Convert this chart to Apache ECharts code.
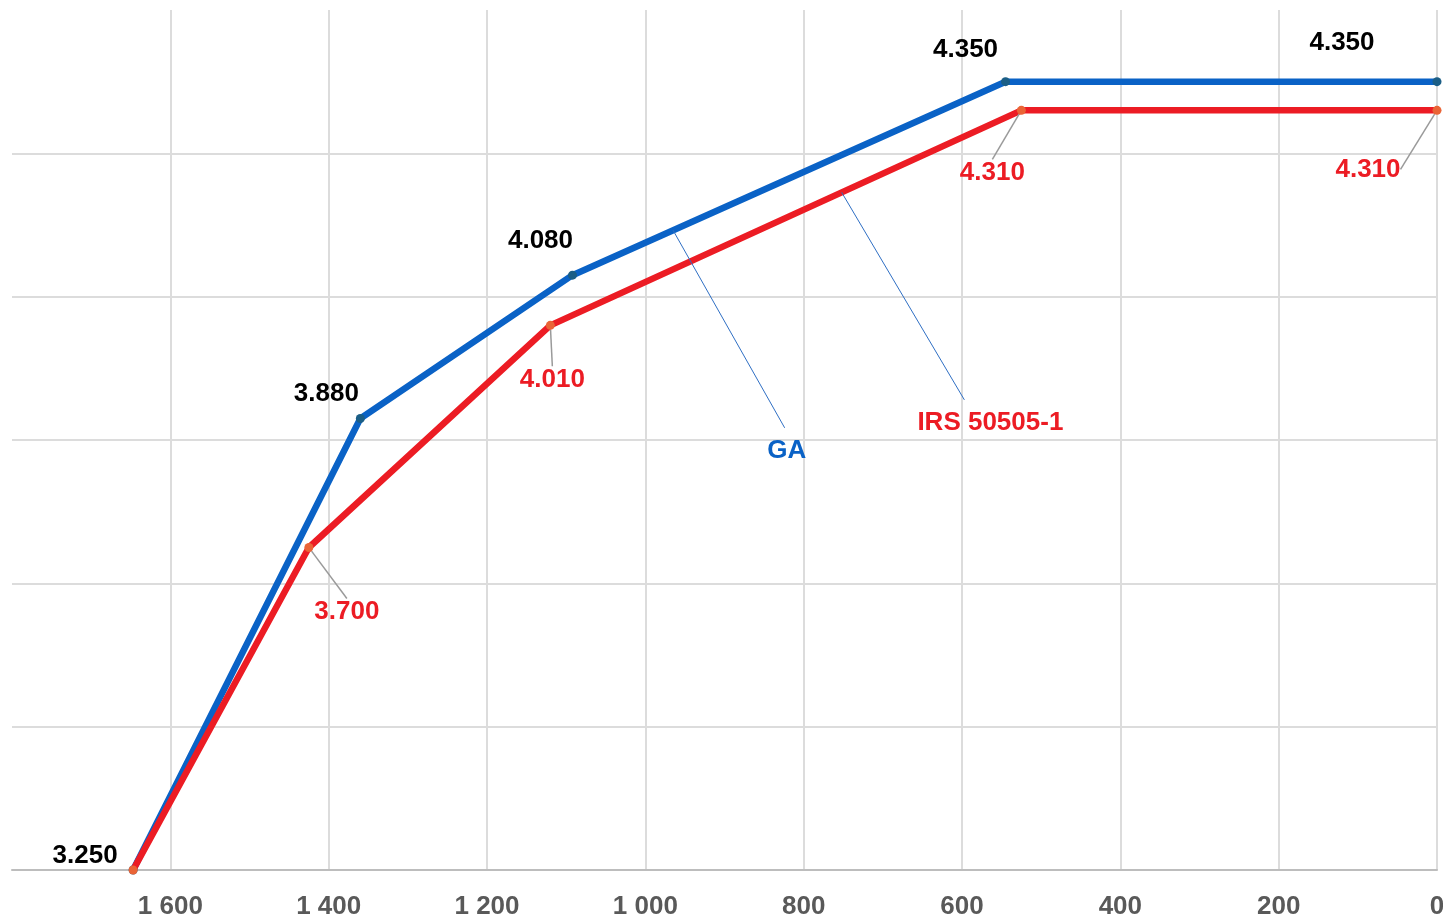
<!DOCTYPE html>
<html><head><meta charset="utf-8">
<script src="https://cdn.jsdelivr.net/npm/echarts@6/dist/echarts.min.js"></script>
<style>html,body{margin:0;padding:0;background:#fff;overflow:hidden}#c{width:1443px;height:918px}</style>
</head><body><div id="c"></div>
<script>
// ---- data ----
const gaName = 'GA';
const gaDist = [1647, 1360, 1092, 545, 0];
const gaLevel = [3.25, 3.88, 4.08, 4.35, 4.35];
const irsName = 'IRS 50505-1';
const irsDist = [1647, 1425, 1120, 525, 0];
const irsLevel = [3.25, 3.70, 4.01, 4.31, 4.31];
const xMin = 0, xMax = 1800, xStep = 200;
const yMin = 3.25, yMax = 4.45, yStep = 0.2;

// annotation anchors (data coordinates)
const gaNoteAnchorX = 965, gaNoteEnd = [824, 3.867];
const irsNoteAnchorX = 752, irsNoteEnd = [597, 3.906];

// ---- styles ----
const FONT = '"Liberation Sans", Arial, sans-serif';
const BLUE = '#0a62c6', RED = '#ec1c24';
const gaLabelOffsets = [[-48,-14],[-34,-25],[-32,-34],[-40,-32],[-95,-39]];
const irsLabelOffsets = [[0,0],[38,64],[2,54],[-29,62],[-69,59]];

function interp(xs, ys, x){
  for (let i = 0; i < xs.length - 1; i++) {
    const a = xs[i], b = xs[i+1];
    if ((x <= a && x >= b) || (x >= a && x <= b)) {
      return ys[i] + (ys[i+1] - ys[i]) * (x - a) / (b - a);
    }
  }
  return ys[ys.length-1];
}
function fmtThousands(v){
  if (v >= 1000) return Math.floor(v/1000) + ' ' + String(v % 1000).padStart(3,'0');
  return String(v);
}
function buildData(xs, ys, hideFirst){
  return xs.map((x,i) => {
    const d = {value:[x, ys[i]]};
    if (hideFirst && i === 0) d.label = {show:false};
    return d;
  });
}

const chart = echarts.init(document.getElementById('c'), null, {renderer:'canvas'});
const noteLabel = (color, off) => ({
  show:true, position:'bottom', distance:10, offset:off,
  color:color, fontSize:26, fontWeight:'bold', fontFamily:FONT
});

chart.setOption({
  animation:false,
  backgroundColor:'#fff',
  grid:{left:12, right:6, top:10, bottom:48, containLabel:false, outerBoundsMode:'none'},
  xAxis:{
    type:'value', inverse:true, min:xMin, max:xMax, interval:xStep,
    axisLine:{show:true, lineStyle:{color:'#bdbdbd', width:2}},
    axisTick:{show:false},
    axisLabel:{show:true, showMaxLabel:false, margin:24, color:'#595959',
      fontSize:26, fontWeight:'bold', fontFamily:FONT, formatter:fmtThousands},
    splitLine:{show:true, showMaxLine:false, lineStyle:{color:'#dcdcdc', width:2}}
  },
  yAxis:{
    type:'value', min:yMin, max:yMax, interval:yStep,
    axisLine:{show:false}, axisTick:{show:false}, axisLabel:{show:false},
    splitLine:{show:true, showMaxLine:false, lineStyle:{color:'#dcdcdc', width:2}}
  },
  series:[
    {
      name:gaName, type:'line', data:buildData(gaDist, gaLevel, false),
      symbol:'circle', symbolSize:9,
      lineStyle:{color:BLUE, width:6.5},
      itemStyle:{color:'#1b5e86'},
      label:{show:true, position:'inside', color:'#000', fontSize:26, fontWeight:'bold',
        fontFamily:FONT, formatter:p => p.value[1].toFixed(3)},
      labelLayout:p => ({dx:gaLabelOffsets[p.dataIndex][0], dy:gaLabelOffsets[p.dataIndex][1]}),
      labelLine:{show:false},
      z:2,
      markLine:{
        silent:true, symbol:['none','none'], animation:false,
        lineStyle:{color:'#2f6fc4', width:1, type:'solid'},
        label:{show:false}, emphasis:{disabled:true},
        data:[[{coord:[gaNoteAnchorX, interp(gaDist, gaLevel, gaNoteAnchorX)]},{coord:gaNoteEnd}]]
      },
      markPoint:{
        silent:true, symbol:'circle', symbolSize:0, animation:false,
        label:Object.assign(noteLabel(BLUE,[2,0]), {formatter:() => gaName}),
        data:[{coord:gaNoteEnd}]
      }
    },
    {
      name:irsName, type:'line', data:buildData(irsDist, irsLevel, true),
      symbol:'circle', symbolSize:9,
      lineStyle:{color:RED, width:6.5},
      itemStyle:{color:'#ea6436'},
      label:{show:true, position:'inside', color:RED, fontSize:26, fontWeight:'bold',
        fontFamily:FONT, formatter:p => p.value[1].toFixed(3)},
      labelLayout:p => ({dx:irsLabelOffsets[p.dataIndex][0], dy:irsLabelOffsets[p.dataIndex][1]}),
      labelLine:{show:true, lineStyle:{color:'#9a9a9a', width:1.5}},
      z:3,
      markLine:{
        silent:true, symbol:['none','none'], animation:false,
        lineStyle:{color:'#2f6fc4', width:1, type:'solid'},
        label:{show:false}, emphasis:{disabled:true},
        data:[[{coord:[irsNoteAnchorX, interp(irsDist, irsLevel, irsNoteAnchorX)]},{coord:irsNoteEnd}]]
      },
      markPoint:{
        silent:true, symbol:'circle', symbolSize:0, animation:false,
        label:Object.assign(noteLabel(RED,[26,0]), {formatter:() => irsName}),
        data:[{coord:irsNoteEnd}]
      }
    }
  ]
});
</script>
</body></html>
